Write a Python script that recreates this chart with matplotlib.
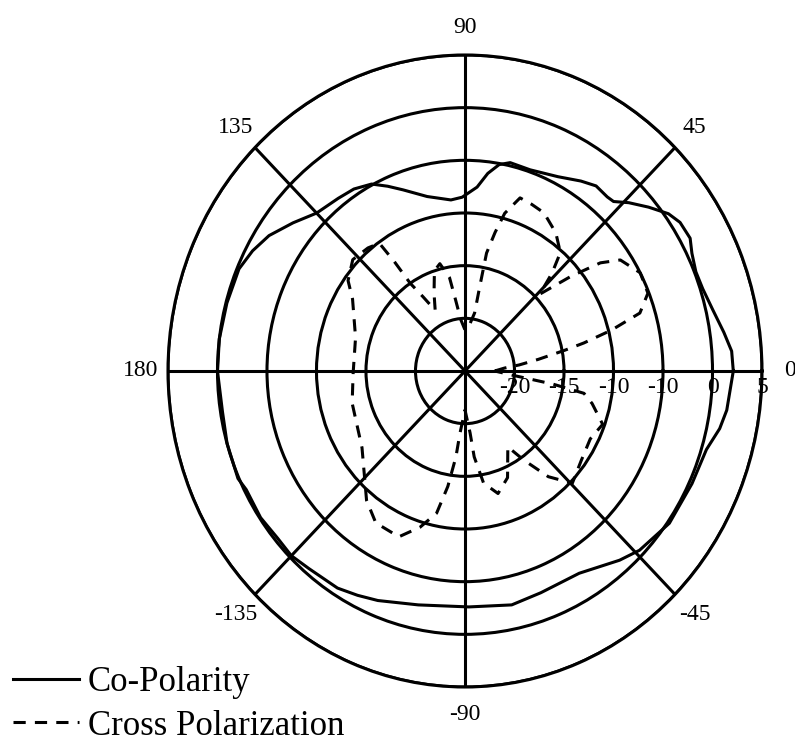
import numpy as np
import matplotlib
matplotlib.use("Agg")
import matplotlib.pyplot as plt
from matplotlib.transforms import offset_copy

plt.rcParams['font.family'] = ['Liberation Serif', 'DejaVu Serif']

# angle (deg) / level (dB)
co_theta = [0, 4, 8, 13, 18, 22, 26, 29, 33, 36, 40, 44, 47, 49, 53, 57, 63, 71, 77, 80,
            83, 86, 91, 95, 103, 110, 114, 118, 123, 128, 135, 141, 147, 152, 157, 165,
            173, 180, 189, 196, 204, 207, 214, 220, 225, 230, 238, 243, 248, 258, 271,
            282, 290, 301, 311, 316, 325, 335, 343, 348, 352, 360]
co_db = [2.1, 2.0, 1.4, 0.7, 0.25, 0.15, 0.5, 1.0, 0.9, 0.4, -0.8, -2.0, -3.0, -3.1, -3.0,
         -3.5, -4.3, -4.8, -4.7, -5.1, -6.1, -7.5, -8.5, -8.7, -8.0, -6.7, -5.8, -4.9,
         -4.4, -4.2, -3.8, -2.65, -1.4, -0.7, -0.2, -0.1, 0.0, 0.0, -0.2, 0.0, 0.1, -0.2,
         -0.1, -0.3, -0.2, -0.5, -0.7, -1.1, -1.5, -2.3, -2.6, -2.3, -2.6, -2.6, -1.2,
         -0.5, 0.2, 0.3, 0.5, 1.3, 1.7, 2.1]

cross_theta = [0, 4, 6, 8.5, 11, 12.5, 14.7, 17.3, 21.8, 27.8, 33.9, 36.9, 40, 44, 46.6,
               49.4, 55, 62, 67, 71.3, 75, 77, 79, 79.5, 80, 85, 90, 95, 98, 100, 104,
               108, 113, 117.6, 121, 123.6, 124.5, 125.5, 130, 137, 144, 149, 164, 181,
               195, 215, 231, 238, 247, 253, 258, 261, 263.6, 265, 270, 275, 276.5, 280,
               286, 293, 301, 305, 310, 315.5, 324, 333, 340, 346.5, 350, 352, 355, 360]
cross_db = [-22.0, -21.0, -19.5, -17.5, -14.8, -12.7, -9.7, -6.5, -5.1, -5.0, -6.1, -7.9,
            -11.0, -14.5, -12.2, -10.2, -9.0, -8.0, -7.8, -7.65, -9.5, -11.5, -13.6, -17.0,
            -19.4, -20.8, -21.1, -20.1, -18.2, -16.0, -14.5, -15.0, -17.0, -18.5, -16.8,
            -15.0, -12.4, -10.1, -9.75, -9.5, -10.4, -11.75, -13.5, -13.7, -13.2, -12.3,
            -9.2, -8.0, -7.9, -9.5, -11.2, -13.9, -16.8, -19.0, -21.3, -19.1, -16.8, -14.2,
            -12.9, -14.0, -16.6, -14.7, -11.9, -9.8, -10.5, -10.8, -10.2, -11.8, -12.8,
            -16.0, -20.0, -22.0]

theta_ticks = [0, 45, 90, 135, 180, 225, 270, 315]
theta_labels = ['0', '45', '90', '135', '180', '-135', '-90', '-45']
r_ticks = [-20, -15, -10, -5, 0, 5]
r_labels = ['-20', '-15', '-10', '-10', '0', '5']

fig = plt.figure(figsize=(7.95, 7.47), dpi=100)
ax = fig.add_axes([0.2113, 0.0803, 0.7472, 0.8461], projection='polar')
ax.set_aspect('auto')

lw = 2.2
ax.plot(np.deg2rad(co_theta), co_db, color='black', lw=lw, label='Co-Polarity')
ax.plot(np.deg2rad(cross_theta), cross_db, color='black', lw=lw,
        linestyle=(0, (4, 3)), label='Cross Polarization')

ax.set_rlim(-25, 5)
ax.set_yticks(r_ticks)
ax.set_yticklabels([])
ax.set_xticks(np.deg2rad(theta_ticks))
ax.set_xticklabels(theta_labels, fontsize=17)
ax.tick_params(axis='x', pad=13, length=0)
ax.tick_params(axis='y', length=0)
ax.grid(True, color='black', lw=lw)
ax.spines['polar'].set_linewidth(lw)

trans = offset_copy(ax.transData, fig=fig, x=0, y=-17, units='dots')
for r, lab in zip(r_ticks, r_labels):
    ax.text(0, r, lab, transform=trans, ha='center', va='center', fontsize=17)

fig.legend(loc='lower left', bbox_to_anchor=(13 / 795, 0.006), fontsize=25,
           frameon=False, handlelength=1.9, handletextpad=0.25, labelspacing=0.3,
           borderpad=0.0, borderaxespad=0.0)

fig.savefig('out.png', dpi=100)
